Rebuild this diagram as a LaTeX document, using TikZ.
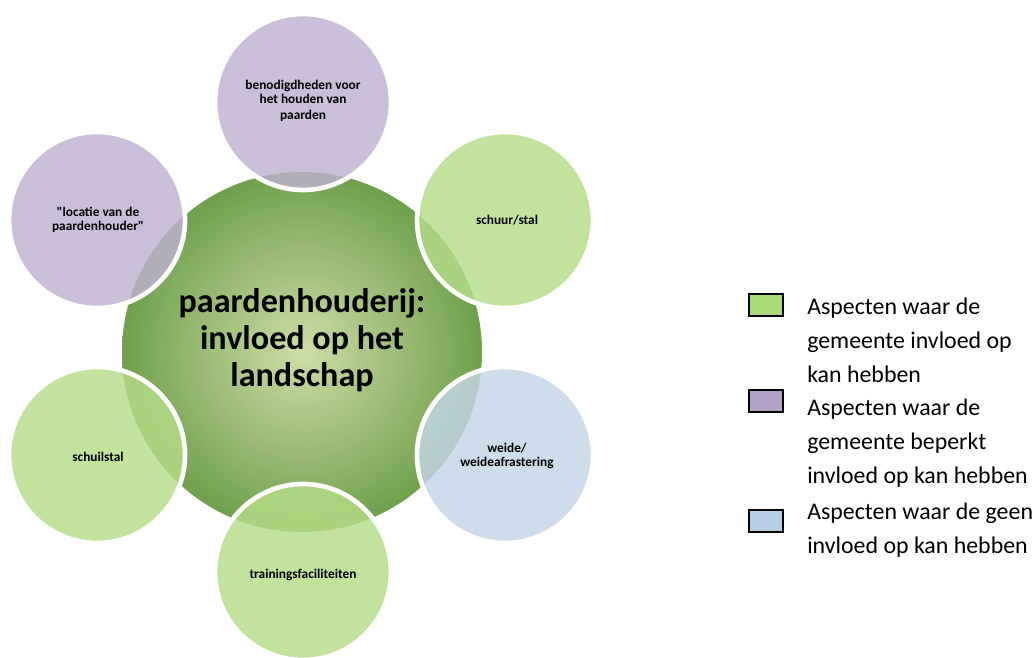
\documentclass[tikz,border=0pt]{standalone}
\usepackage{fontspec}
\setmainfont{Carlito}[Ligatures=TeXOff]
\begin{document}
\begin{tikzpicture}[x=0.75pt,y=-0.75pt]
\definecolor{cpurple}{RGB}{191,176,209}
\definecolor{cgreen}{RGB}{181,221,136}
\definecolor{cblue}{RGB}{194,214,231}
\definecolor{cinner}{RGB}{206,221,168}
\definecolor{couter}{RGB}{112,160,76}
\definecolor{lgreen}{RGB}{172,218,120}
\definecolor{lpurple}{RGB}{178,160,198}
\definecolor{lblue}{RGB}{184,204,228}
\tikzset{
  outer/.style={circle, minimum size=176*0.75pt, inner sep=0pt, draw=white, line width=3.5pt, fill opacity=0.82, draw opacity=1},
  small/.style={font=\bfseries\fontsize{10}{10.5}\selectfont, align=center, text opacity=1},
  legbox/.style={draw=black, line width=1.2pt, minimum width=34*0.75pt, minimum height=22*0.75pt, inner sep=0pt},
  legtxt/.style={anchor=west, font=\fontsize{17.9}{25.5}\selectfont, align=left, inner sep=0pt}
}
\useasboundingbox (0,0) rectangle (1035,657);
\node[circle, minimum size=360*0.75pt, inner sep=0pt, inner color=cinner, outer color=couter] (c) at (302,352) {};
\node[outer, fill=cpurple] (t) at (303,102) {};
\node[outer, fill=cpurple] (tl) at (97,220) {};
\node[outer, fill=cgreen] (tr) at (505,220) {};
\node[outer, fill=cblue] (r) at (505,455) {};
\node[outer, fill=cgreen] (b) at (303,572) {};
\node[outer, fill=cgreen] (l) at (97,455) {};
\node[font=\bfseries\fontsize{25.6}{27.75}\selectfont, align=center] (ct) at (302,340) {paardenhouderij:\\invloed op het\\landschap};
\node[small] (tt) at (303,101) {benodigdheden voor\\het houden van\\[2pt]paarden};
\node[small] (tlt) at (98,220) {"locatie van de\\paardenhouder"};
\node[small] (trt) at (507,220) {schuur/stal};
\node[small] (rt) at (507,456) {weide/\\weideafrastering};
\node[small] (bt) at (303,575) {trainingsfaciliteiten};
\node[small] (lt) at (98,457) {schuilstal};
\node[legbox, fill=lgreen] (k1) at (766,305) {};
\node[legbox, fill=lpurple] (k2) at (766,401) {};
\node[legbox, fill=lblue] (k3) at (766,521) {};
\node[legtxt] (l1) at (807,340) {Aspecten waar de\\gemeente invloed op\\kan hebben};
\node[legtxt] (l2) at (807,443) {Aspecten waar de\\gemeente beperkt\\invloed op kan hebben};
\node[legtxt] (l3) at (807,530) {Aspecten waar de geen\\invloed op kan hebben};
\end{tikzpicture}
\end{document}
